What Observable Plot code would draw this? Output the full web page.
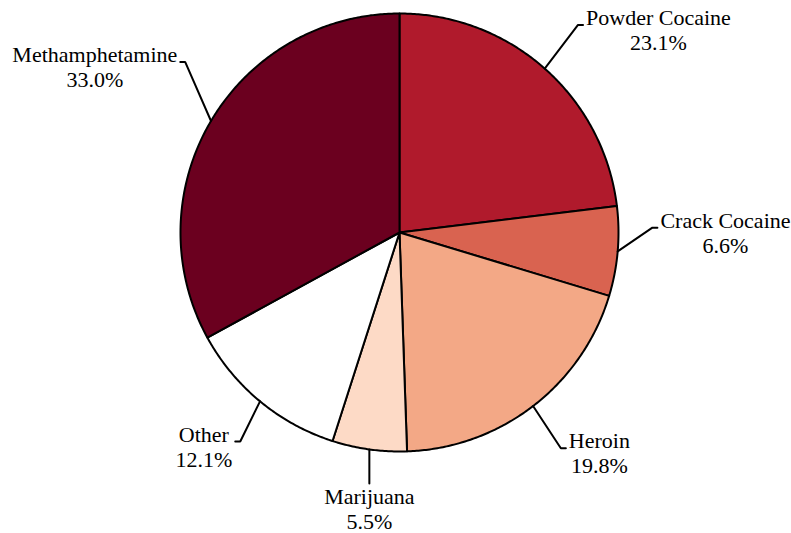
<!DOCTYPE html>
<html><head><meta charset="utf-8">
<script src="https://cdn.jsdelivr.net/npm/d3@7"></script>
<script src="https://cdn.jsdelivr.net/npm/@observablehq/plot@0.6"></script>
<style>body{margin:0;background:#fff}</style>
</head><body><div id="chart"></div>
<script>
// ---- data ----
const categories = ["Powder Cocaine", "Crack Cocaine", "Heroin", "Marijuana", "Other", "Methamphetamine"];
const shares = [23.1, 6.6, 19.8, 5.5, 12.1, 33.0];
const sliceColors = ["#B01A2C", "#D96350", "#F3A886", "#FDDAC6", "#FFFFFF", "#6B001F"];

// ---- label layout (degrees clockwise from 12 o'clock; radius relative to pie radius) ----
const labelSide = ["right", "right", "right", "bottom", "left", "left"];
const elbowAngle = [40.7, 88.9, 143.2, null, 217.3, 308.5];
const elbowRadius = [1.25, 1.155, 1.23, 1.146, 1.2, 1.25];
const leaderStartAngle = [null, null, null, null, null, 300.6];

const R_PX = 219;          // pie radius in pixels (1 data unit)
const FONT_PX = 22;
const LINE_PX = 25;
const TICK_PX = 5, GAP_PX = 3;
const FONT_FAMILY = '"Liberation Serif", "Times New Roman", serif';

const ctx = document.createElement("canvas").getContext("2d");
ctx.font = `${FONT_PX}px ${FONT_FAMILY}`;
const tw = s => ctx.measureText(s).width;

const rows = categories.map((name, i) => ({name, share: shares[i], pct: shares[i].toFixed(1) + "%"}));
const arcs = d3.pie().sort(null).value(d => d.share).startAngle(0).endAngle(2 * Math.PI)(rows);

const polar = (a, r) => ({x: r * Math.sin(a), y: r * Math.cos(a)});

// slice polygons
const slicePts = [];
arcs.forEach(a => {
  slicePts.push({name: a.data.name, x: 0, y: 0});
  const n = Math.max(2, Math.ceil((a.endAngle - a.startAngle) / (Math.PI / 360)));
  for (let k = 0; k <= n; k++) {
    const t = a.startAngle + (a.endAngle - a.startAngle) * k / n;
    slicePts.push({name: a.data.name, ...polar(t, 1)});
  }
});

// leaders and labels (y = baseline of first line)
const leaderPts = [];
const labels = [];
arcs.forEach((a, i) => {
  const mid = (a.startAngle + a.endAngle) / 2;
  const startA = leaderStartAngle[i] != null ? leaderStartAngle[i] * Math.PI / 180 : mid;
  const s = polar(startA, 1);
  const name = a.data.name, pct = a.data.pct;
  const w = Math.max(tw(name), tw(pct));
  let e, t, lx, ly;
  if (labelSide[i] === "bottom") {
    e = {x: s.x, y: -elbowRadius[i]};
    t = e;
    lx = e.x;
    ly = e.y - 20 / R_PX;
  } else {
    e = polar(elbowAngle[i] * Math.PI / 180, elbowRadius[i]);
    const sign = labelSide[i] === "right" ? 1 : -1;
    t = {x: e.x + sign * TICK_PX / R_PX, y: e.y};
    lx = t.x + sign * (GAP_PX + w / 2) / R_PX;
    ly = e.y;
  }
  [s, e, t].forEach(p => leaderPts.push({name, ...p}));
  labels.push({name, text: name + "\n" + pct, x: lx, y: ly});
});

const chart = Plot.plot({
  width: 791,
  height: 533,
  x: {domain: [-1, 1], range: [180, 618], axis: null},
  y: {domain: [-1, 1], range: [451, 13], axis: null},
  color: {domain: categories, range: sliceColors},
  style: {fontFamily: FONT_FAMILY, background: "#fff"},
  marks: [
    Plot.line(slicePts, {x: "x", y: "y", z: "name", fill: "name", stroke: "black", strokeWidth: 2, curve: "linear-closed", strokeLinejoin: "round"}),
    Plot.line(leaderPts, {x: "x", y: "y", z: "name", stroke: "black", strokeWidth: 2, curve: "linear", strokeLinejoin: "miter"}),
    Plot.text(labels, {x: "x", y: "y", text: "text", textAnchor: "middle", lineAnchor: "top", dy: -0.71 * FONT_PX - 2, fontSize: FONT_PX, fontFamily: FONT_FAMILY, lineHeight: LINE_PX / FONT_PX, fill: "black"})
  ]
});
document.getElementById("chart").appendChild(chart);
</script>
</body></html>
